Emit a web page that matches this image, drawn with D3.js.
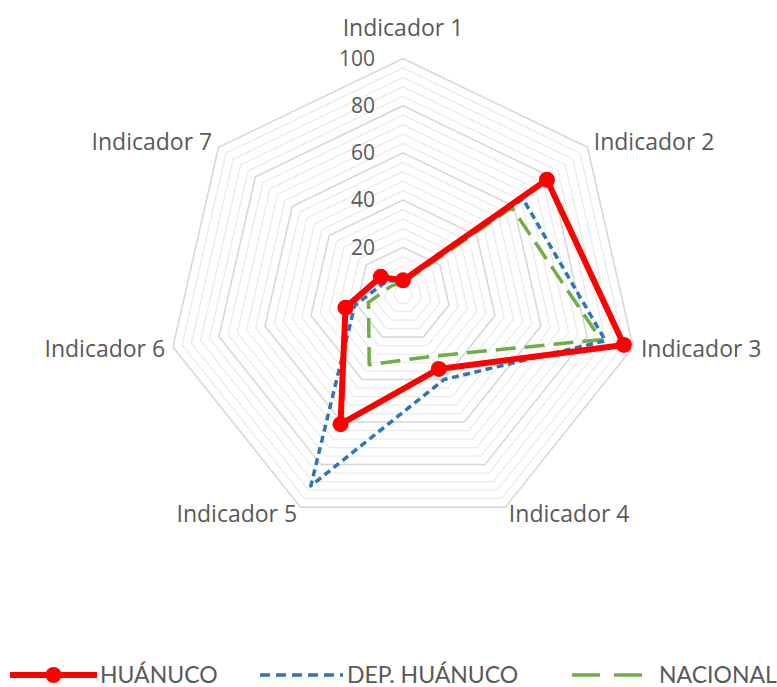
<!DOCTYPE html>
<html>
<head>
<meta charset="utf-8">
<script src="https://cdn.jsdelivr.net/npm/d3@7"></script>
<style>
  body { margin: 0; background: #fff; }
  text { font-family: "Open Sans", Lato, sans-serif; fill: #595959; }
</style>
</head>
<body>
<div class="canva"></div>
<script>
// datos
const indicadores = ["Indicador 1", "Indicador 2", "Indicador 3", "Indicador 4", "Indicador 5", "Indicador 6", "Indicador 7"];
const huanuco = [6, 78, 96, 35, 61, 25, 12];
const depHuanuco = [6, 65, 88, 40, 90, 21, 9];
const nacional = [5, 59, 86, 29, 33, 15, 6];
const ticks = [20, 40, 60, 80, 100];
const minorTicks = d3.range(4, 101, 4);

const width = 777, height = 687;
const cx = 403, cy = 294.5, R = 236;

const svg = d3.select(".canva").append("svg")
  .attr("width", width)
  .attr("height", height);

const r = d3.scaleLinear().domain([0, 100]).range([0, R]);
const angle = d3.scalePoint().domain(indicadores).range([0, 2 * Math.PI * 6 / 7]);

function pt(name, v) {
  const a = angle(name);
  return [cx + r(v) * Math.sin(a), cy - r(v) * Math.cos(a)];
}

const poly = d3.line().curve(d3.curveLinearClosed);

// rejilla
svg.selectAll(".minor").data(minorTicks.filter(t => t % 20 !== 0)).enter()
  .append("path")
  .attr("d", t => poly(indicadores.map(n => pt(n, t))))
  .attr("fill", "none")
  .attr("stroke", "#ebebeb")
  .attr("stroke-width", 1.3);

svg.selectAll(".major").data(ticks).enter()
  .append("path")
  .attr("d", t => poly(indicadores.map(n => pt(n, t))))
  .attr("fill", "none")
  .attr("stroke", "#d6d6d6")
  .attr("stroke-width", 1.5);

// etiquetas de escala
svg.selectAll(".tick").data(ticks).enter()
  .append("text")
  .attr("x", cx - 28)
  .attr("y", t => cy - r(t))
  .attr("dy", "0.35em")
  .attr("text-anchor", "end")
  .style("font-size", "21px")
  .text(d => d);

// etiquetas de categorias
svg.selectAll(".cat").data(indicadores).enter()
  .append("text")
  .attr("x", d => {
    const a = angle(d);
    return cx + (R + 8) * Math.sin(a);
  })
  .attr("y", d => {
    const a = angle(d);
    let y = cy - (R + 8) * Math.cos(a);
    if (Math.cos(a) > 0.9) y -= 23;
    return y;
  })
  .attr("dy", "0.35em")
  .attr("text-anchor", d => {
    const s = Math.sin(angle(d));
    return s > 0.3 ? "start" : (s < -0.3 ? "end" : "middle");
  })
  .style("font-size", "23px")
  .text(d => d);

// series
const series = [
  { name: "NACIONAL", values: nacional, color: "#70ad47", width: 3.5, dash: "20,9", legDash: "28,14" },
  { name: "DEP. HUÁNUCO", values: depHuanuco, color: "#2e75b6", width: 3.5, dash: "7,4.5", legDash: "10,6" },
  { name: "HUÁNUCO", values: huanuco, color: "#ff0000", width: 6, dash: null, legDash: null }
];

series.forEach(s => {
  svg.append("path")
    .attr("d", poly(indicadores.map((n, i) => pt(n, s.values[i]))))
    .attr("fill", "none")
    .attr("stroke", s.color)
    .attr("stroke-width", s.width)
    .attr("stroke-dasharray", s.dash)
    .attr("stroke-linejoin", "round");
});

svg.selectAll(".dot").data(huanuco).enter()
  .append("circle")
  .attr("cx", (d, i) => pt(indicadores[i], d)[0])
  .attr("cy", (d, i) => pt(indicadores[i], d)[1])
  .attr("r", 8)
  .attr("fill", "#ff0000");

// leyenda
const ly = 675;
const legend = [
  { s: series[2], x0: 10, x1: 97, tx: 100 },
  { s: series[1], x0: 260, x1: 343, tx: 347 },
  { s: series[0], x0: 572, x1: 642, tx: 659 }
];
legend.forEach(l => {
  svg.append("line")
    .attr("x1", l.x0).attr("x2", l.x1)
    .attr("y1", ly).attr("y2", ly)
    .attr("stroke", l.s.color)
    .attr("stroke-width", l.s.width)
    .attr("stroke-dasharray", l.s.legDash);
  if (l.s.name === "HUÁNUCO") {
    svg.append("circle")
      .attr("cx", (l.x0 + l.x1) / 2).attr("cy", ly)
      .attr("r", 8).attr("fill", l.s.color);
  }
  svg.append("text")
    .attr("x", l.tx).attr("y", ly)
    .attr("dy", "0.35em")
    .style("font-family", "Lato, sans-serif")
    .style("font-size", "23px")
    .text(l.s.name);
});
</script>
</body>
</html>
